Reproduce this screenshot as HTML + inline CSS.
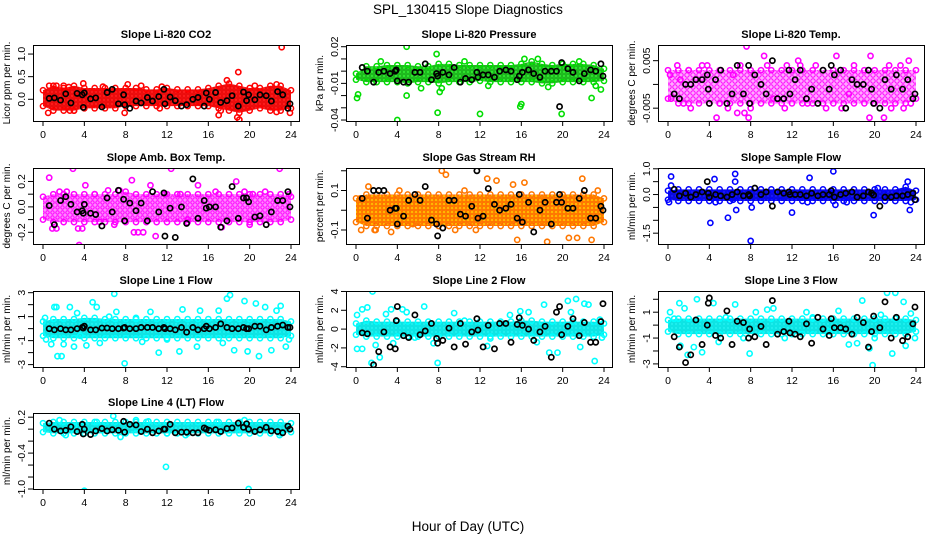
<!DOCTYPE html>
<html><head><meta charset="utf-8"><style>
html,body{margin:0;padding:0;background:#fff;}
svg{display:block;font-family:"Liberation Sans",Arial,sans-serif;}
</style></head><body>
<svg id="chart" width="936" height="540" viewBox="0 0 936 540">
<rect width="936" height="540" fill="#fff"/>
<text x="468" y="14" font-size="13.5" text-anchor="middle">SPL_130415  Slope Diagnostics</text>
<text x="468" y="531" font-size="13.5" text-anchor="middle">Hour of Day (UTC)</text>
</svg>
<script>
// shared hours of black (hourly-average) points
const blackX=[0.6,1.1,1.7,2.2,2.7,3.3,3.8,3.9,4.0,4.6,5.1,5.7,6.2,6.7,7.3,7.8,7.9,8.4,9.0,9.5,10.1,10.6,11.2,11.7,11.8,12.3,12.8,13.4,13.9,14.5,15.0,15.6,15.8,16.1,16.7,17.2,17.8,18.3,18.9,19.4,19.7,19.9,20.5,21.0,21.6,22.1,22.7,23.2,23.7,23.9];
const bandHours=[0,1,2,3,4,5,6,7,8,9,10,11,12,13,14,15,16,17,18,19,20,21,22,23,24];

// P1 CO2
const co2Hi=[0.2,0.3,0.25,0.3,0.25,0.25,0.25,0.25,0.25,0.25,0.22,0.22,0.25,0.22,0.22,0.22,0.25,0.3,0.35,0.3,0.25,0.25,0.3,0.3,0.2];
const co2Lo=[-0.15,-0.25,-0.25,-0.25,-0.2,-0.2,-0.2,-0.2,-0.15,-0.15,-0.15,-0.15,-0.15,-0.15,-0.15,-0.15,-0.15,-0.2,-0.25,-0.3,-0.25,-0.2,-0.25,-0.25,-0.2];
const co2OutX=[0.5,0.6,1.3,2,2.5,2.6,3,3.9,7.9,8.2,9.5,11.3,17,17.2,17.8,18.9,18.8,19,22.6,22.6,23.1,23.9,20.5,11.5,5.8];
const co2OutY=[-0.3,0.3,0.3,0.3,0.27,-0.25,-0.25,0.35,-0.3,0.33,0.3,-0.2,-0.35,-0.25,0.42,0.6,-0.4,-0.45,0.33,-0.28,1.15,-0.3,0.3,0.28,0.28];
const co2Black=[0.02,0.03,-0.02,0.12,-0.08,0.13,0.1,-0.18,0.14,0.01,0.03,-0.17,0.15,0.22,-0.1,0.1,-0.12,-0.2,-0.04,-0.08,0.04,-0.04,0.06,0.22,-0.1,0.05,-0.03,-0.15,-0.12,0.0,0.04,-0.15,0.14,0.0,0.15,-0.07,-0.03,0.08,-0.15,0.16,-0.03,0.1,-0.01,0.1,0.08,-0.04,0.17,0.1,-0.2,-0.1];

// P2 Pressure
const presHi=[-0.002,0.004,0.004,0.005,0.005,0.005,0.004,0.004,0.006,0.006,0.005,0.005,0.005,0.005,0.005,0.005,0.006,0.008,0.006,0.005,0.006,0.006,0.006,0.005,0.002];
const presLo=[-0.007,-0.009,-0.009,-0.009,-0.009,-0.01,-0.009,-0.009,-0.01,-0.009,-0.009,-0.009,-0.008,-0.009,-0.009,-0.009,-0.009,-0.009,-0.01,-0.01,-0.009,-0.009,-0.009,-0.009,-0.008];
const presOutX=[0.1,0.2,2.4,4.0,4.9,4.9,7.8,7.9,8.1,8.3,10.5,12,12.8,15.9,16,16.3,17.6,19.9,22.8,23.2,23.7,21.6,18.6,6.3];
const presOutY=[-0.022,-0.019,0.008,-0.04,0.02,-0.02,0.014,-0.034,-0.017,-0.014,0.008,-0.035,-0.012,-0.029,-0.027,0.01,0.01,-0.035,-0.022,-0.012,-0.015,0.008,-0.013,-0.014];
const presBlack=[0.003,0.0,-0.009,-0.001,0.0,-0.002,0.0,0.001,-0.008,-0.009,-0.009,-0.001,-0.001,0.006,-0.007,-0.002,-0.004,-0.001,-0.003,0.003,-0.009,-0.006,-0.007,-0.001,-0.005,-0.003,-0.003,-0.005,0.0,0.001,0.0,-0.007,-0.004,-0.001,0.001,-0.002,-0.005,0.0,0.0,0.0,-0.029,0.007,0.002,-0.001,-0.008,-0.002,0.001,0.0,0.006,-0.004];

// P3 Li-820 Temp
const tempHi=[0.003,0.003,0.003,0.003,0.003,0.003,0.003,0.003,0.003,0.003,0.003,0.003,0.003,0.003,0.003,0.003,0.003,0.003,0.003,0.003,0.003,0.003,0.003,0.003,0.003];
const tempLo=[-0.003,-0.004,-0.004,-0.004,-0.004,-0.004,-0.004,-0.004,-0.004,-0.004,-0.004,-0.004,-0.004,-0.004,-0.004,-0.004,-0.004,-0.004,-0.004,-0.004,-0.004,-0.004,-0.004,-0.004,-0.003];
const tempOutX=[0.2,0.3,0.9,1.5,2,2.2,3.3,4.7,5,5.8,6.7,7.0,7.4,7.6,7.8,8.0,9.3,9.6,11.3,11.5,12.6,12.8,14.3,15.3,16.3,16.8,18.0,19.5,19.6,20.9,21.4,21.6,22.5,22.8,23.3,23.5,3.8,10.2,13.5,1.2,6.3,17.5];
const tempOutY=[0.002,-0.003,0.004,-0.004,0.003,-0.005,0.004,-0.007,-0.004,-0.005,-0.006,0.004,-0.006,0.008,-0.007,-0.005,0.006,0.004,-0.005,0.004,0.005,0.004,0.004,-0.005,0.006,-0.005,0.004,-0.007,0.006,-0.007,0.004,-0.005,0.004,-0.005,0.005,-0.004,0.004,-0.003,-0.004,0.001,0.002,-0.002];
const tempBlack=[-0.002,-0.003,0.0,0.0,0.001,0.001,0.002,-0.001,-0.004,0.001,0.003,-0.004,-0.002,0.004,-0.002,0.004,-0.004,0.002,0.0,-0.002,0.005,-0.003,-0.003,0.003,-0.002,0.001,0.003,-0.003,-0.001,-0.004,0.003,-0.001,0.004,0.002,0.003,-0.005,0.001,0.0,0.0,0.003,-0.001,-0.004,-0.005,0.001,-0.001,0.002,-0.001,0.001,-0.003,-0.002];

// P4 Amb Box Temp
const ambHi=[0.08,0.1,0.1,0.1,0.1,0.1,0.1,0.1,0.12,0.1,0.1,0.1,0.1,0.1,0.1,0.1,0.1,0.1,0.1,0.1,0.1,0.1,0.1,0.1,0.08];
const ambLo=[-0.1,-0.12,-0.12,-0.12,-0.12,-0.12,-0.12,-0.12,-0.12,-0.12,-0.12,-0.12,-0.12,-0.12,-0.12,-0.12,-0.12,-0.12,-0.12,-0.12,-0.12,-0.12,-0.12,-0.12,-0.1];
const ambOutX=[0.6,0.9,1.3,1.6,2.3,2.9,3.4,3.5,3.8,4.1,5.0,6.3,6.9,7.4,8.6,8.8,9.2,9.7,10.4,10.9,12.4,13.3,14.0,15.0,16.7,17.3,18.7,19.5,20.0,21.5,22.9,23.8,5.5,11.8,20.3];
const ambOutY=[0.23,-0.17,-0.17,0.12,0.12,0.3,-0.17,-0.3,-0.17,0.17,0.1,0.13,-0.14,0.13,0.21,-0.2,-0.2,-0.2,0.17,-0.23,0.3,0.1,-0.1,0.17,0.12,-0.16,0.2,0.12,-0.14,0.12,0.3,0.1,-0.12,0.1,0.1];
const ambBlack=[0.01,-0.14,0.05,0.08,0.02,-0.04,-0.03,-0.05,0.02,-0.05,-0.06,-0.15,0.07,-0.04,0.13,0.06,-0.11,0.03,-0.03,0.03,-0.11,0.12,-0.04,0.11,-0.23,-0.01,-0.24,0.0,-0.13,0.22,-0.09,0.05,-0.01,0.0,0.0,-0.16,-0.11,0.16,-0.09,0.07,0.07,0.04,-0.08,-0.07,-0.14,-0.04,0.05,0.05,0.12,0.0];

// P5 Gas Stream RH
const rhHi=[0.06,0.08,0.08,0.08,0.08,0.08,0.08,0.08,0.08,0.08,0.08,0.08,0.08,0.08,0.08,0.08,0.08,0.08,0.08,0.08,0.08,0.08,0.08,0.08,0.06];
const rhLo=[-0.06,-0.08,-0.08,-0.08,-0.08,-0.08,-0.08,-0.08,-0.08,-0.08,-0.08,-0.08,-0.08,-0.08,-0.08,-0.08,-0.08,-0.08,-0.08,-0.08,-0.08,-0.08,-0.08,-0.08,-0.06];
const rhOutX=[0.4,0.5,1.2,1.8,3.4,5.5,8.3,8.7,9.6,11.6,12.7,13.6,15.2,15.6,16.3,18.5,20.6,21.4,21.9,22.8,23.4,1.9,4.2,10.5];
const rhOutY=[0.06,-0.1,0.12,-0.1,-0.11,-0.07,0.2,0.18,-0.1,-0.1,0.16,0.15,0.13,-0.15,0.14,-0.16,-0.14,-0.14,0.16,-0.15,0.1,-0.1,0.1,0.1];
const rhBlack=[0.06,-0.04,0.1,0.1,0.1,0.0,0.01,0.01,-0.07,-0.03,0.05,0.08,0.05,0.12,-0.05,-0.07,-0.13,-0.09,0.05,0.05,-0.02,-0.03,0.02,0.2,-0.04,-0.03,0.11,0.03,0.0,0.01,0.03,-0.04,0.08,-0.06,0.04,-0.11,0.0,0.04,-0.07,0.04,0.08,0.04,0.01,0.01,0.06,0.1,-0.04,-0.04,0.02,0.0];

// P6 Sample Flow
const sfHi=[0.15,0.2,0.2,0.2,0.2,0.2,0.2,0.2,0.2,0.2,0.2,0.2,0.2,0.2,0.2,0.2,0.2,0.2,0.2,0.2,0.2,0.2,0.2,0.3,0.15];
const sfLo=[-0.2,-0.25,-0.25,-0.25,-0.25,-0.25,-0.25,-0.25,-0.25,-0.25,-0.25,-0.25,-0.25,-0.25,-0.25,-0.25,-0.25,-0.25,-0.25,-0.25,-0.25,-0.25,-0.25,-0.25,-0.2];
const sfOutX=[0.1,0.3,0.3,4.1,4.5,4.6,5.8,6.3,6.5,6.5,6.6,8.0,8.1,12.0,13.7,13.5,16.0,16.2,17.3,19.9,20.3,23.2,23.4,23.5];
const sfOutY=[-0.3,0.7,0.35,-1.1,0.6,-0.3,-0.9,-0.2,0.8,0.5,-0.6,-1.8,-0.5,-0.7,0.65,-0.3,0.9,-0.4,-0.3,-0.8,0.25,0.5,-0.6,-0.3];
const sfBlack=[0.2,-0.05,0.05,-0.1,0.0,0.1,0.5,0.05,-0.1,0.0,-0.05,-0.1,0.0,0.1,-0.05,0.0,-0.05,0.25,0.0,0.1,-0.45,0.1,0.05,0.1,0.0,0.0,0.0,-0.05,0.05,-0.05,0.0,0.0,0.15,-0.1,0.0,0.05,0.1,-0.1,-0.05,0.1,0.05,-0.02,-0.45,-0.1,-0.1,-0.05,-0.05,0.0,0.05,-0.2];

// P7 Line 1 Flow
const l1Hi=[0.6,0.8,0.8,0.8,0.9,0.9,0.8,0.8,0.8,0.8,0.8,0.8,0.8,0.8,0.8,0.8,0.8,0.8,0.8,0.8,0.8,0.8,0.8,0.8,0.6];
const l1Lo=[-0.6,-0.8,-0.8,-0.8,-0.8,-0.8,-0.8,-0.8,-0.8,-0.8,-0.8,-0.8,-0.8,-0.8,-0.8,-0.8,-0.8,-0.8,-0.8,-0.8,-0.8,-0.8,-0.8,-0.8,-0.6];
const l1OutX=[0.2,0.3,0.8,1.1,1.3,1.4,1.8,2.0,2.6,3.0,3.3,4.2,4.8,5.2,5.5,6.9,7.1,7.9,9.6,10.4,11.2,12.0,13.2,13.5,14.9,15.2,17.0,17.4,17.8,18.1,18.5,19.5,19.8,20.6,20.9,21.5,22.1,22.6,23.0,23.5,23.8,6.4,3.6,9.0];
const l1OutY=[0.9,-0.9,-1.3,1.8,1.8,-2.3,-2.3,-1.3,1.8,-1.5,1.3,-1.4,2.2,1.8,-1.2,2.9,1.4,-2.9,-1.1,1.4,-2.0,-0.9,-1.9,1.6,-1.5,1.5,1.5,-1.2,2.5,2.8,-1.8,2.3,-1.9,2.1,-2.3,1.8,-1.8,1.5,1.9,-1.5,-0.9,1.0,-0.6,0.9];
const l1Black=[0,-0.1,0,-0.1,-0.1,0,0.1,0.05,0.2,-0.1,-0.1,0.05,0.05,0,0,0.05,0.1,0,0,0.1,0.1,0.1,0,0.1,0,0,-0.1,0.1,-0.3,0.1,-0.1,0,0.2,0,0.1,0.4,0.1,0,0,0.1,0,0,0.2,0.2,-0.1,0.1,0.2,0.3,0.1,0.1];

// P8 Line 2 Flow
const l2Hi=[0.6,0.9,0.8,0.8,0.8,0.8,0.8,0.8,0.8,0.8,0.8,0.8,0.8,0.8,0.8,0.8,0.9,0.9,0.8,0.8,0.8,0.8,0.8,0.8,0.6];
const l2Lo=[-0.6,-0.8,-0.8,-0.8,-0.8,-0.8,-0.8,-0.8,-0.8,-0.8,-0.8,-0.8,-0.8,-0.8,-0.8,-0.8,-0.8,-0.8,-0.8,-0.8,-0.8,-0.8,-0.8,-0.8,-0.6];
const l2OutX=[0.1,0.1,0.6,0.6,1.1,1.5,1.6,1.9,2.3,2.9,3.4,4.5,4.9,5.7,6.6,7.5,7.9,9.5,12.7,14.9,15.9,16.7,17.5,18.2,18.7,19.5,20.5,20.8,21.3,21.7,22.1,22.5,23.1,23.6,23.8,3.6,10.5,13.0];
const l2OutY=[1.5,-2.1,2.1,-2.1,2.3,-3.6,4.0,-1.7,-3.0,1.6,2.1,2.1,1.8,-0.9,2.4,-1.5,-3.6,1.7,-1.8,1.5,1.9,1.8,-1.4,2.6,-2.5,-2.5,3.0,1.8,3.2,-1.9,2.7,2.6,-3.4,1.0,-0.9,-1.5,0.9,-1.0];
const l2Black=[-0.4,-0.5,-3.8,-2.4,-0.3,-1.9,-2.1,0.9,2.4,-0.7,-0.9,1.5,-0.6,-0.2,0.6,-1.0,-1.5,-1.2,0.1,-1.9,0.6,-1.6,-0.3,1.1,-0.1,-1.9,0.4,-2.1,0.6,0.6,-1.4,0.5,1.2,0.4,0.0,-1.2,-0.3,0.3,-3.0,1.8,2.4,-0.6,0.3,1.1,-0.7,0.7,-1.4,-1.4,0.8,2.7];

// P9 Line 3 Flow
const l3Hi=[0.4,0.5,0.5,0.5,0.5,0.5,0.5,0.5,0.5,0.5,0.5,0.5,0.5,0.5,0.5,0.5,0.5,0.5,0.5,0.5,0.5,0.5,0.5,0.5,0.4];
const l3Lo=[-0.5,-0.7,-0.7,-0.7,-0.7,-0.7,-0.7,-0.7,-0.7,-0.7,-0.7,-0.7,-0.7,-0.7,-0.7,-0.7,-0.7,-0.7,-0.7,-0.7,-0.7,-0.7,-0.7,-0.7,-0.5];
const l3OutX=[0.2,0.6,1.1,1.2,1.6,1.9,2.5,2.8,3.3,4.4,4.9,5.6,6.5,7.3,7.9,8.5,9.6,10.2,11.3,13.4,14.0,15.6,16.5,17.5,18.3,18.8,19.5,19.8,20.6,21.2,21.7,22.0,22.8,23.0,23.5,23.9,20.0];
const l3OutY=[1.0,0.5,1.7,-1.6,1.3,-2.3,-1.7,2.0,-2.1,1.7,-1.3,0.6,1.6,-1.0,-2.2,1.0,1.2,1.3,-1.0,1.0,0.6,-0.5,1.1,-1.5,-1.4,1.9,-1.8,-3.1,0.8,2.5,-2.2,2.5,1.8,-1.6,0.9,-1.0,-1.0];
const l3Black=[-0.9,-1.7,-2.9,-2.3,0.4,-1.5,0.0,1.7,2.1,-0.8,-1.0,1.1,-1.5,0.3,0.2,-1.0,-0.3,-0.9,-0.1,-1.5,1.9,-0.7,-0.5,0.3,-0.6,-0.7,-0.9,0.1,-1.4,0.6,-0.3,-0.8,0.5,-0.2,-0.2,-0.3,-0.7,0.6,0.2,-1.7,-0.5,0.7,-0.2,1.8,-1.0,0.6,-1.2,-0.9,0.1,1.4];

// P10 Line 4 (LT) Flow
const l4Hi=[0.1,0.12,0.12,0.12,0.12,0.12,0.12,0.12,0.12,0.12,0.12,0.12,0.12,0.12,0.12,0.12,0.12,0.12,0.12,0.12,0.12,0.12,0.12,0.12,0.1];
const l4Lo=[-0.05,-0.07,-0.07,-0.07,-0.07,-0.07,-0.07,-0.07,-0.07,-0.07,-0.07,-0.07,-0.07,-0.07,-0.07,-0.07,-0.07,-0.07,-0.07,-0.07,-0.07,-0.07,-0.07,-0.07,-0.05];
const l4OutX=[1.6,2.2,3.0,4.0,6.8,7.5,9.0,10.2,11.9,12.0,13.8,19.9,22.9,19.5,5.2,16.8];
const l4OutY=[0.15,-0.1,0.05,-1.03,0.22,-0.13,0.15,0.13,-0.63,-0.07,-0.1,-1.0,-0.1,0.15,0.12,0.12];
const l4Black=[0.1,0.0,-0.03,-0.02,0.04,-0.04,0.08,-0.08,0.0,-0.09,-0.03,0.01,-0.03,-0.01,-0.02,0.13,-0.05,0.08,0.07,-0.04,0.0,-0.06,-0.03,0.0,0.0,0.08,-0.06,-0.05,-0.05,-0.06,-0.06,0.02,0.0,-0.02,-0.01,-0.04,0.01,0.02,0.1,0.03,0.09,0.0,-0.04,-0.01,0.03,-0.03,-0.04,-0.06,0.05,0.0];

const xTicks=[0,4,8,12,16,20,24];

const NS="http://www.w3.org/2000/svg";
const svg=document.getElementById('chart');
function mk(tag,attrs,parent){const e=document.createElementNS(NS,tag);for(const k in attrs)e.setAttribute(k,attrs[k]);(parent||svg).appendChild(e);return e;}

const colLeft=[33,346,658], rowTop=[45,168,291,413], W=266, H=76;
const panels=[
 {key:'co2',title:'Slope Li-820 CO2',ylab:'Licor ppm per min.',c:0,r:0,min:-0.48,max:1.2,ticks:[0,0.5,1],labels:{'0':'0.0','0.5':'0.5','1':'1.0'},color:'#ff0000',bg:'#ff2020',dot:'#e00000',sw:1,cell:4,hi:co2Hi,lo:co2Lo,ox:co2OutX,oy:co2OutY,by:co2Black},
 {key:'pressure',title:'Slope Li-820 Pressure',ylab:'kPa per min.',c:1,r:0,min:-0.0408,max:0.0214,ticks:[-0.04,-0.03,-0.02,-0.01,0,0.01,0.02],labels:{'0.02':'0.02','-0.01':'-0.01','-0.04':'-0.04'},color:'#00dd00',bg:'#33ee33',dot:'#119911',sw:1,cell:4,hi:presHi,lo:presLo,ox:presOutX,oy:presOutY,by:presBlack},
 {key:'li820-temp',title:'Slope Li-820 Temp.',ylab:'degrees C per min.',c:2,r:0,min:-0.0077,max:0.0083,ticks:[-0.005,0,0.005],labels:{'0.005':'0.005','-0.005':'-0.005'},color:'#ff00ff',bg:'#ffaaff',dot:'#ff00ff',sw:1,cell:6,hi:tempHi,lo:tempLo,ox:tempOutX,oy:tempOutY,by:tempBlack},
 {key:'amb-temp',title:'Slope Amb. Box Temp.',ylab:'degrees C per min.',c:0,r:1,min:-0.292,max:0.306,ticks:[-0.2,-0.1,0,0.1,0.2],labels:{'0.2':'0.2','0':'0.0','-0.2':'-0.2'},color:'#ff00ff',bg:'#ff88ff',dot:'#ff00ff',sw:1,cell:5,hi:ambHi,lo:ambLo,ox:ambOutX,oy:ambOutY,by:ambBlack},
 {key:'rh',title:'Slope Gas Stream RH',ylab:'percent per min.',c:1,r:1,min:-0.171,max:0.214,ticks:[-0.1,0,0.1,0.2],labels:{'0.1':'0.1','-0.1':'-0.1'},color:'#ff7700',bg:'#ffbb00',dot:'#ff2200',sw:0.7,cell:4,hi:rhHi,lo:rhLo,ox:rhOutX,oy:rhOutY,by:rhBlack},
 {key:'sample-flow',title:'Slope Sample Flow',ylab:'ml/min per min.',c:2,r:1,min:-1.92,max:1.03,ticks:[-1.5,-1,-0.5,0,0.5,1],labels:{'1':'1.0','0':'0.0','-1.5':'-1.5'},color:'#0000ff',bg:'#1a1aff',dot:'#0000cc',sw:1,cell:4,hi:sfHi,lo:sfLo,ox:sfOutX,oy:sfOutY,by:sfBlack},
 {key:'line1',title:'Slope Line 1 Flow',ylab:'ml/min per min.',c:0,r:2,min:-3.2,max:3.14,ticks:[-3,-2,-1,0,1,2,3],labels:{'3':'3','1':'1','-1':'-1','-3':'-3'},color:'#00ffff',bg:'#22f0f0',dot:'#00dddd',sw:1,cell:4,hi:l1Hi,lo:l1Lo,ox:l1OutX,oy:l1OutY,by:l1Black},
 {key:'line2',title:'Slope Line 2 Flow',ylab:'ml/min per min.',c:1,r:2,min:-4.03,max:4.05,ticks:[-4,-2,0,2,4],labels:{'4':'4','2':'2','0':'0','-2':'-2','-4':'-4'},color:'#00ffff',bg:'#22f0f0',dot:'#00dddd',sw:1,cell:4,hi:l2Hi,lo:l2Lo,ox:l2OutX,oy:l2OutY,by:l2Black},
 {key:'line3',title:'Slope Line 3 Flow',ylab:'ml/min per min.',c:2,r:2,min:-3.24,max:2.64,ticks:[-3,-2,-1,0,1,2],labels:{'1':'1','-1':'-1','-3':'-3'},color:'#00ffff',bg:'#22f0f0',dot:'#00dddd',sw:1,cell:4,hi:l3Hi,lo:l3Lo,ox:l3OutX,oy:l3OutY,by:l3Black},
 {key:'line4',title:'Slope Line 4 (LT) Flow',ylab:'ml/min per min.',c:0,r:3,min:-1.0,max:0.27,ticks:[-1,-0.8,-0.6,-0.4,-0.2,0,0.2],labels:{'0.2':'0.2','-0.4':'-0.4','-1':'-1.0'},color:'#00ffff',bg:'#22f0f0',dot:'#00dddd',sw:1,cell:4,hi:l4Hi,lo:l4Lo,ox:l4OutX,oy:l4OutY,by:l4Black}
];

const defs=mk('defs',{});
panels.forEach(p=>{
  const L=colLeft[p.c], T=rowTop[p.r];
  const xs=v=>L+10+v*(248/24);
  const ys=v=>T+H-(v-p.min)/(p.max-p.min)*H;
  const pat=mk('pattern',{id:'pat'+p.key,width:p.cell,height:p.cell,patternUnits:'userSpaceOnUse'},defs);
  mk('rect',{width:p.cell,height:p.cell,fill:p.bg},pat);
  mk('circle',{cx:p.cell/2,cy:p.cell/2,r:p.cell/2-0.8,fill:'none',stroke:p.dot,'stroke-width':p.sw},pat);

  const g=mk('g',{});
  
  
  const t=mk('text',{x:L+W/2,y:T-7,'font-size':'11','font-weight':'bold','text-anchor':'middle'},g);
  t.textContent=p.title;
  
  
  const yl=mk('text',{x:0,y:0,'font-size':'10','text-anchor':'middle',transform:`translate(${L-23},${T+H/2}) rotate(-90)`},g);
  yl.textContent=p.ylab;
  
  
  const cp=mk('clipPath',{id:'cp'+p.key},g);
  mk('rect',{x:L,y:T,width:W,height:H},cp);
  const dg=mk('g',{'clip-path':`url(#cp${p.key})`},g);
  let pts=[];
  bandHours.forEach((h,i)=>pts.push(xs(h)+','+ys(p.hi[i])));
  for(let i=bandHours.length-1;i>=0;i--)pts.push(xs(bandHours[i])+','+ys(p.lo[i]));
  const band=mk('polygon',{points:pts.join(' '),fill:`url(#pat${p.key})`,stroke:'none'},dg);
  
  
  bandHours.forEach((h,i)=>{
    [p.hi[i],p.lo[i]].forEach(v=>{
      const c=mk('circle',{cx:xs(h),cy:ys(v),r:2.6,fill:'none',stroke:p.color,'stroke-width':'1.5'},dg);
      
      
    });
  });
  p.ox.forEach((x,i)=>{
    const c=mk('circle',{cx:xs(x),cy:ys(p.oy[i]),r:2.6,fill:'none',stroke:p.color,'stroke-width':'1.6'},dg);
    
    
  });
  blackX.forEach((x,i)=>{
    const c=mk('circle',{cx:xs(x),cy:ys(p.by[i]),r:2.6,fill:'none',stroke:'#000','stroke-width':'1.7'},dg);
    
    
  });
  const bx=mk('rect',{x:L+0.5,y:T+0.5,width:W,height:H,fill:'none',stroke:'#000','stroke-width':'1'},g);
  
  
  const xa=mk('g',{},g);
  
  
  mk('line',{x1:xs(0),x2:xs(24),y1:T+H+0.5,y2:T+H+0.5,stroke:'#000'},xa);
  xTicks.forEach(v=>{
    mk('line',{x1:xs(v),x2:xs(v),y1:T+H,y2:T+H+5,stroke:'#000'},xa);
    const tl=mk('text',{x:xs(v),y:T+H+17,'font-size':'10.5','text-anchor':'middle'},xa);
    tl.textContent=String(v);
    
    
  });
  const ya=mk('g',{},g);
  
  
  const tk=p.ticks;
  mk('line',{x1:L+0.5,x2:L+0.5,y1:ys(tk[0]),y2:ys(tk[tk.length-1]),stroke:'#000'},ya);
  tk.forEach(v=>{
    mk('line',{x1:L-5,x2:L,y1:ys(v),y2:ys(v),stroke:'#000'},ya);
    const lab=p.labels[String(v)];
    if(lab!==undefined){
      const tl=mk('text',{x:0,y:0,'font-size':'10.5','text-anchor':'middle',transform:`translate(${L-8},${ys(v)}) rotate(-90)`},ya);
      tl.textContent=lab;
      
      
    }
  });
});
</script>
</body></html>
